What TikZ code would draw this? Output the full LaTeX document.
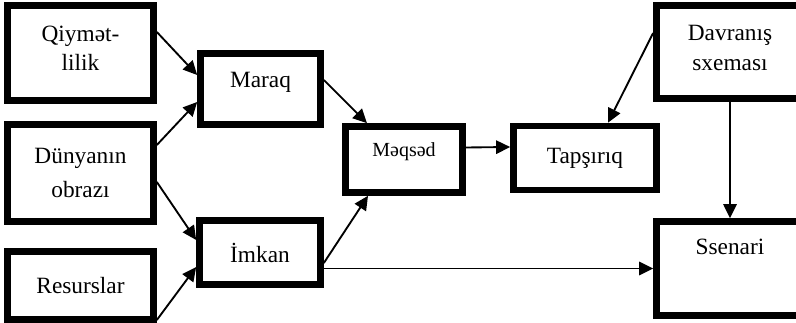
\documentclass[tikz,border=0pt]{standalone}
\usepackage{fontspec}
\setmainfont{Liberation Serif}
\usetikzlibrary{arrows.meta,calc,positioning}
\tikzset{
  blok/.style={draw,line width=5pt,align=center,inner sep=0pt,font=\fontsize{17.5}{22}\selectfont},
  ox/.style={line width=1.4pt,-{Triangle[length=10.5pt,width=10pt]}},
}
\begin{document}
\begin{tikzpicture}[x=0.75pt,y=-0.75pt]
  \clip (0,0) rectangle (796,323);
  \node[blok,minimum width=109.5pt,minimum height=71.25pt,text depth=7.5pt] (qiy) at (80.5,53) {Qiymət-\\lilik};
  \node[blok,minimum width=109.5pt,minimum height=72.75pt] (dun) at (80.5,173) {Dünyanın\\[3pt]obrazı};
  \node[blok,minimum width=109.5pt,minimum height=51pt] (res) at (80.5,285.5) {Resurslar};
  \node[blok,minimum width=90pt,minimum height=53.25pt,text depth=14pt] (maraq) at (260.5,89) {Maraq};
  \node[blok,minimum width=90.75pt,minimum height=48pt] (imkan) at (260,252.5) {İmkan};
  \node[blok,minimum width=87.75pt,minimum height=49.5pt,text depth=14.5pt,font=\fontsize{15}{18}\selectfont] (meqsed) at (404,159.5) {Məqsəd};
  \node[blok,minimum width=107.25pt,minimum height=48pt] (tap) at (585,158) {Tapşırıq};
  \node[blok,minimum width=110.25pt,minimum height=69.75pt,text depth=6pt] (dav) at (730,52) {Davranış\\sxeması};
  \node[blok,minimum width=110.25pt,minimum height=70.5pt] (ssen) at (730,268.5) {};
  \node[font=\fontsize{17.5}{22}\selectfont] at ($(ssen.north)+(0,28.5)$) {Ssenari};
  \draw[ox] ($(qiy.east)+(0,-21)$) -- ($(maraq.west)+(0,-14)$);
  \draw[ox] ($(dun.east)+(0,-28)$) -- ($(maraq.west)+(0,13)$);
  \draw[ox] ($(dun.east)+(0,9)$) -- ($(imkan.west)+(0,-12.5)$);
  \draw[ox] ($(res.east)+(0,34.5)$) -- ($(imkan.west)+(0,14.5)$);
  \draw[ox] ($(maraq.east)+(0,-9)$) -- ($(meqsed.north)+(-37,0)$);
  \draw[ox] ($(imkan.east)+(0,10.5)$) -- ($(meqsed.south)+(-36,0)$);
  \draw[ox] (ssen.west -| imkan.east) -- (ssen.west);
  \draw[ox] ($(meqsed.east)+(0,-12)$) -- ($(tap.west)+(0,-11)$);
  \draw[ox] ($(dav.west)+(0,-19)$) -- ($(tap.north)+(23,0)$);
  \draw[ox] (dav.south) -- (ssen.north);
\end{tikzpicture}
\end{document}
